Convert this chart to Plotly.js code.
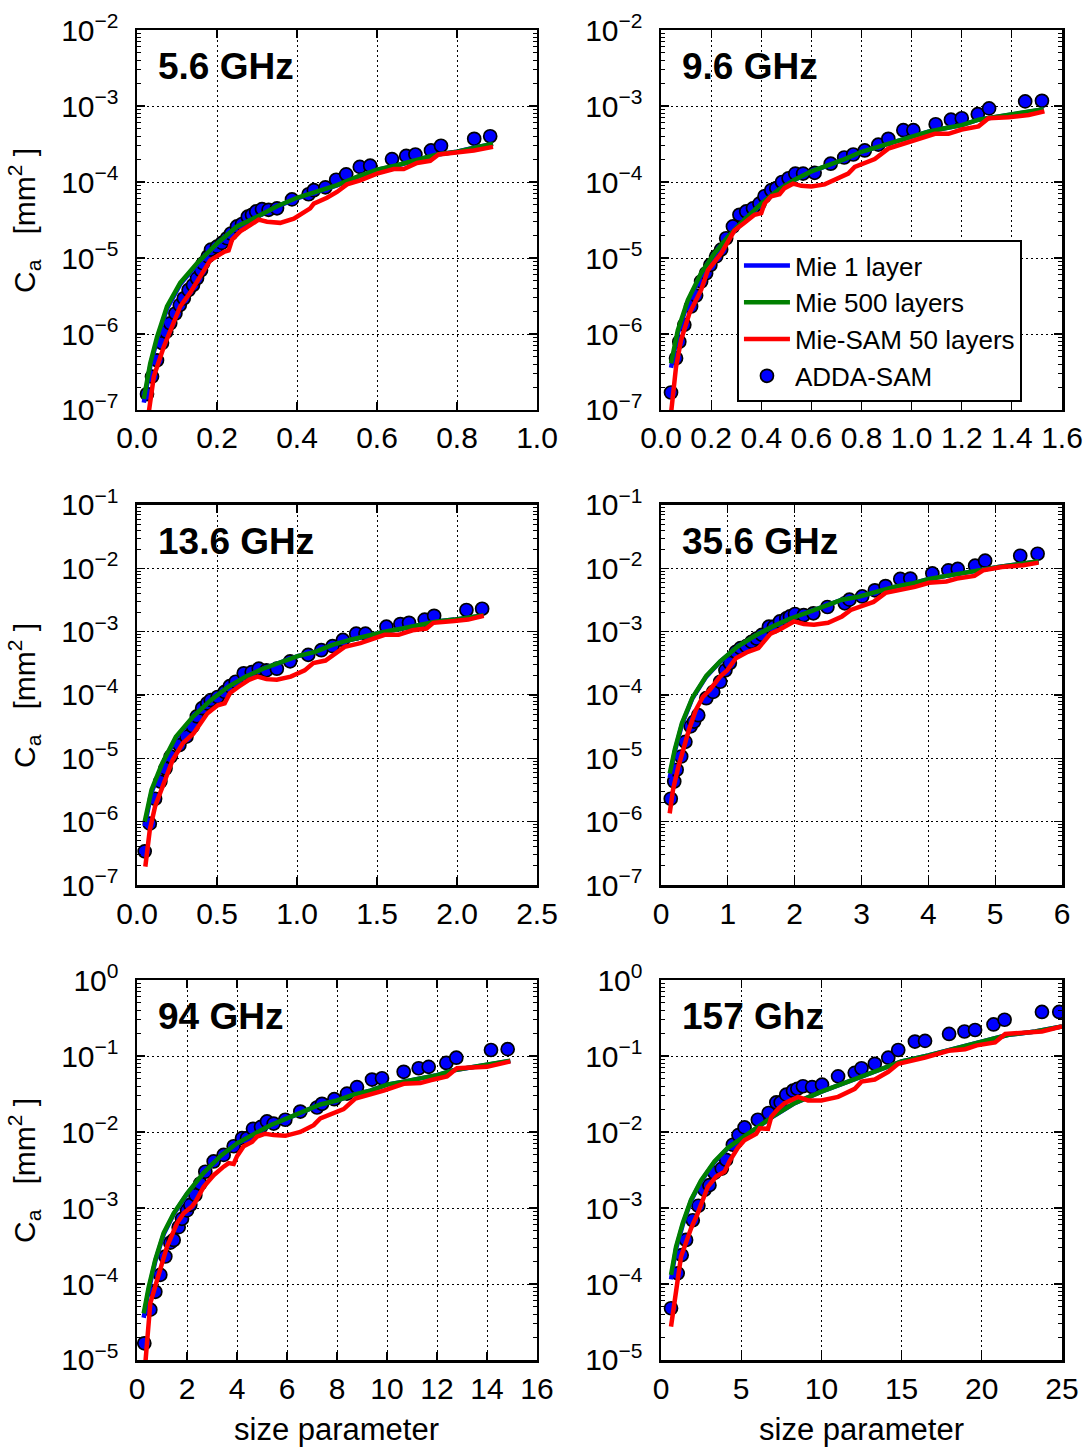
<!DOCTYPE html>
<html>
<head>
<meta charset="utf-8">
<script src="https://cdn.plot.ly/plotly-3.0.1.min.js"></script>
<style>html,body{margin:0;padding:0;background:#fff;}#chart{width:1092px;height:1447px;}</style>
</head>
<body>
<div id="chart"></div>
<script>
// ---------- 5.6 GHz ----------
const f56_x_mie = [0.017,0.033,0.05,0.075,0.108,0.15,0.2,0.25,0.3,0.35,0.4,0.45,0.5,0.55,0.6,0.65,0.7,0.75,0.8,0.85,0.89];
const f56_mie1 = [1.25e-7,3.7e-7,8.4e-7,2.15e-6,4.5e-6,8.2e-6,1.5e-5,2.55e-5,3.45e-5,4.75e-5,6.1e-5,7.3e-5,9.0e-5,1.16e-4,1.44e-4,1.65e-4,1.94e-4,2.3e-4,2.5e-4,2.9e-4,3.15e-4];
const f56_mie500 = [1.4e-7,4.1e-7,9.1e-7,2.3e-6,4.7e-6,8.5e-6,1.55e-5,2.6e-5,3.5e-5,4.8e-5,6.2e-5,7.4e-5,9.1e-5,1.17e-4,1.45e-4,1.66e-4,1.95e-4,2.3e-4,2.5e-4,2.9e-4,3.2e-4];
const f56_x_sam = [0.029,0.042,0.067,0.092,0.108,0.133,0.158,0.183,0.217,0.229,0.2375,0.258,0.283,0.304,0.325,0.358,0.392,0.433,0.442,0.475,0.5,0.525,0.558,0.6,0.642,0.667,0.7,0.733,0.754,0.8,0.842,0.89];
const f56_sam = [9e-8,2.75e-7,6.8e-7,1.38e-6,2.3e-6,3.5e-6,5.6e-6,9.3e-6,1.2e-5,1.26e-5,1.74e-5,2.24e-5,2.7e-5,3.2e-5,3.0e-5,2.9e-5,3.3e-5,4.5e-5,5.2e-5,6.2e-5,7.4e-5,9.3e-5,1.05e-4,1.29e-4,1.48e-4,1.48e-4,1.78e-4,1.9e-4,2.3e-4,2.45e-4,2.6e-4,2.9e-4];
const f56_x_adda = [0.025,0.0375,0.05,0.0625,0.073,0.083,0.096,0.107,0.117,0.129,0.14,0.15,0.16,0.165,0.177,0.185,0.2,0.2125,0.225,0.235,0.25,0.2625,0.277,0.2875,0.298,0.3125,0.329,0.35,0.3875,0.429,0.442,0.471,0.498,0.523,0.557,0.583,0.6375,0.673,0.696,0.735,0.76,0.843,0.883];
const f56_adda = [1.62e-7,2.75e-7,4.5e-7,7.6e-7,1.07e-6,1.38e-6,1.86e-6,2.4e-6,2.95e-6,3.8e-6,4.4e-6,5.4e-6,6.9e-6,8.5e-6,1.05e-5,1.29e-5,1.41e-5,1.58e-5,1.82e-5,2.1e-5,2.6e-5,2.8e-5,3.5e-5,3.7e-5,4.1e-5,4.4e-5,4.3e-5,4.5e-5,5.9e-5,6.9e-5,7.8e-5,8.5e-5,1.07e-4,1.26e-4,1.58e-4,1.64e-4,2.0e-4,2.2e-4,2.3e-4,2.6e-4,3.0e-4,3.7e-4,4.0e-4];

// ---------- 9.6 GHz ----------
const f96_x_mie = [0.04,0.067,0.107,0.16,0.213,0.267,0.333,0.4,0.467,0.533,0.6,0.667,0.733,0.8,0.867,0.933,1.0,1.067,1.133,1.2,1.267,1.333,1.4,1.527];
const f96_mie1 = [3.6e-7,1.02e-6,2.6e-6,6.0e-6,1.1e-5,1.85e-5,3.15e-5,5.1e-5,7.7e-5,1.06e-4,1.37e-4,1.65e-4,2.0e-4,2.5e-4,2.9e-4,3.4e-4,4.0e-4,4.6e-4,5.1e-4,5.6e-4,6.6e-4,7.2e-4,7.8e-4,9.0e-4];
const f96_mie500 = [4.1e-7,1.12e-6,2.8e-6,6.3e-6,1.15e-5,1.9e-5,3.2e-5,5.2e-5,7.8e-5,1.07e-4,1.38e-4,1.66e-4,2.0e-4,2.5e-4,2.9e-4,3.4e-4,4.0e-4,4.6e-4,5.1e-4,5.6e-4,6.6e-4,7.2e-4,7.8e-4,9.1e-4];
const f96_x_sam = [0.04,0.06,0.08,0.113,0.16,0.187,0.24,0.293,0.333,0.373,0.4,0.413,0.44,0.473,0.493,0.527,0.56,0.6,0.653,0.707,0.747,0.773,0.813,0.853,0.907,0.96,1.013,1.093,1.147,1.2,1.267,1.307,1.387,1.467,1.53];
const f96_sam = [9e-8,3.7e-7,8.3e-7,1.86e-6,3.8e-6,6.9e-6,1.15e-5,2.3e-5,2.9e-5,3.7e-5,3.9e-5,5.2e-5,6.5e-5,6.9e-5,8.3e-5,9.5e-5,8.9e-5,8.7e-5,9.3e-5,1.12e-4,1.29e-4,1.58e-4,1.78e-4,2.0e-4,2.75e-4,3.1e-4,3.5e-4,4.3e-4,4.3e-4,4.9e-4,5.4e-4,6.9e-4,7.1e-4,7.6e-4,8.5e-4];
const f96_x_adda = [0.04,0.06,0.073,0.093,0.12,0.14,0.16,0.18,0.197,0.22,0.24,0.26,0.287,0.313,0.34,0.367,0.393,0.413,0.44,0.46,0.483,0.509,0.536,0.567,0.613,0.677,0.731,0.767,0.813,0.867,0.907,0.967,1.007,1.096,1.157,1.2,1.264,1.309,1.453,1.52];
const f96_adda = [1.7e-7,4.8e-7,7.9e-7,1.32e-6,2.3e-6,3.2e-6,4.9e-6,6.3e-6,8.1e-6,1.05e-5,1.29e-5,1.82e-5,2.6e-5,3.7e-5,4.1e-5,4.5e-5,5.2e-5,6.5e-5,7.8e-5,8.3e-5,1.0e-4,1.12e-4,1.29e-4,1.29e-4,1.32e-4,1.74e-4,2.1e-4,2.3e-4,2.6e-4,3.1e-4,3.7e-4,4.8e-4,4.8e-4,5.75e-4,6.6e-4,6.9e-4,7.8e-4,9.3e-4,1.15e-3,1.17e-3];

// ---------- 13.6 GHz ----------
const f136_x_mie = [0.048,0.091,0.157,0.243,0.352,0.461,0.57,0.678,0.787,0.896,1.004,1.113,1.222,1.33,1.439,1.548,1.657,1.765,1.874,1.983,2.167];
const f136_mie1 = [8.5e-7,2.9e-6,7.8e-6,2.1e-5,4.5e-5,8.2e-5,1.34e-4,1.94e-4,2.6e-4,3.2e-4,4.1e-4,4.8e-4,6.2e-4,7.4e-4,8.7e-4,1.0e-3,1.12e-3,1.29e-3,1.45e-3,1.55e-3,1.8e-3];
const f136_mie500 = [1.0e-6,3.2e-6,8.3e-6,2.2e-5,4.6e-5,8.3e-5,1.35e-4,1.95e-4,2.6e-4,3.2e-4,4.1e-4,4.8e-4,6.2e-4,7.4e-4,8.7e-4,1.0e-3,1.12e-3,1.29e-3,1.45e-3,1.55e-3,1.82e-3];
const f136_x_sam = [0.052,0.08,0.113,0.157,0.222,0.287,0.352,0.439,0.504,0.548,0.58,0.635,0.7,0.754,0.809,0.874,0.961,1.048,1.102,1.178,1.243,1.298,1.396,1.483,1.548,1.635,1.722,1.809,1.852,1.983,2.07,2.167];
const f136_sam = [1.95e-7,7.4e-7,1.74e-6,3.5e-6,9.3e-6,1.74e-5,2.45e-5,5.1e-5,6.9e-5,7.4e-5,1.07e-4,1.35e-4,1.74e-4,1.95e-4,1.78e-4,1.74e-4,1.95e-4,2.45e-4,3.2e-4,3.5e-4,4.6e-4,5.75e-4,6.6e-4,7.8e-4,8.9e-4,8.9e-4,1.05e-3,1.12e-3,1.38e-3,1.48e-3,1.55e-3,1.78e-3];
const f136_x_adda = [0.048,0.08,0.113,0.146,0.178,0.211,0.265,0.309,0.348,0.374,0.407,0.439,0.461,0.504,0.548,0.58,0.617,0.667,0.717,0.761,0.809,0.874,0.957,1.07,1.152,1.222,1.287,1.37,1.428,1.559,1.646,1.7,1.798,1.857,2.059,2.157];
const f136_adda = [3.4e-7,9.3e-7,2.3e-6,4.3e-6,6.9e-6,1.07e-5,1.62e-5,2.2e-5,3.2e-5,4.6e-5,6.2e-5,7.4e-5,8.3e-5,9.3e-5,1.12e-4,1.38e-4,1.62e-4,2.2e-4,2.3e-4,2.6e-4,2.45e-4,2.6e-4,3.4e-4,4.3e-4,5.1e-4,5.9e-4,7.4e-4,9.3e-4,9.3e-4,1.2e-3,1.32e-3,1.38e-3,1.55e-3,1.78e-3,2.2e-3,2.3e-3];

// ---------- 35.6 GHz ----------
const f356_x_mie = [0.13,0.208,0.3125,0.469,0.677,0.885,1.146,1.406,1.667,1.927,2.1875,2.448,2.708,2.97,3.23,3.49,3.75,4.01,4.27,4.53,4.79,5.05,5.65];
const f356_mie1 = [4.9e-6,1.3e-5,3.4e-5,8.8e-5,1.95e-4,3.35e-4,5.75e-4,8.5e-4,1.19e-3,1.6e-3,2.0e-3,2.5e-3,3.2e-3,3.6e-3,4.3e-3,5.1e-3,5.75e-3,6.8e-3,7.6e-3,8.5e-3,9.3e-3,1.05e-2,1.28e-2];
const f356_mie500 = [5.75e-6,1.4e-5,3.6e-5,9.0e-5,2.0e-4,3.4e-4,5.8e-4,8.6e-4,1.2e-3,1.6e-3,2.0e-3,2.5e-3,3.2e-3,3.6e-3,4.3e-3,5.1e-3,5.75e-3,6.8e-3,7.6e-3,8.5e-3,9.3e-3,1.05e-2,1.29e-2];
const f356_x_sam = [0.13,0.18,0.26,0.417,0.52,0.625,0.729,0.885,0.99,1.12,1.30,1.458,1.536,1.64,1.77,1.927,1.99,2.135,2.29,2.5,2.708,2.84,3.02,3.18,3.36,3.59,3.80,4.01,4.27,4.43,4.69,4.82,5.10,5.42,5.65];
const f356_sam = [1.35e-6,3.2e-6,7.4e-6,2.8e-5,5.75e-5,9.3e-5,1.2e-4,1.95e-4,2.45e-4,3.8e-4,4.8e-4,5.5e-4,6.9e-4,9.3e-4,1.07e-3,1.29e-3,1.45e-3,1.32e-3,1.29e-3,1.38e-3,1.74e-3,2.2e-3,2.6e-3,2.95e-3,4.1e-3,4.5e-3,5.1e-3,5.9e-3,6.2e-3,6.9e-3,7.6e-3,9.3e-3,1.05e-2,1.12e-2,1.23e-2];
const f356_x_adda = [0.146,0.198,0.234,0.302,0.365,0.443,0.495,0.557,0.677,0.781,0.885,0.964,1.03,1.12,1.19,1.276,1.354,1.43,1.51,1.615,1.69,1.78,1.875,1.93,2.005,2.135,2.28,2.49,2.75,2.82,3.01,3.20,3.36,3.58,3.73,4.06,4.30,4.44,4.70,4.85,5.375,5.635];
const f356_adda = [2.3e-6,4.3e-6,6.6e-6,1.07e-5,1.82e-5,3.2e-5,3.8e-5,4.8e-5,8.9e-5,1.12e-4,1.62e-4,2.45e-4,3.2e-4,4.8e-4,5.5e-4,5.9e-4,6.9e-4,7.8e-4,8.9e-4,1.2e-3,1.2e-3,1.45e-3,1.62e-3,1.74e-3,1.9e-3,1.82e-3,1.95e-3,2.45e-3,2.8e-3,3.2e-3,3.6e-3,4.5e-3,5.25e-3,6.8e-3,6.9e-3,8.3e-3,9.3e-3,9.8e-3,1.1e-2,1.32e-2,1.58e-2,1.7e-2];

// ---------- 94 GHz ----------
const f94_x_mie = [0.267,0.467,0.733,1.067,1.467,2.0,2.667,3.333,4.0,4.667,5.333,6.0,6.667,7.333,8.0,8.667,9.333,10.0,10.667,11.333,12.0,12.667,13.333,14.0,14.933];
const f94_mie1 = [3.6e-5,8.3e-5,2.0e-4,4.5e-4,8.3e-4,1.52e-3,2.85e-3,4.75e-3,7.0e-3,9.4e-3,1.22e-2,1.5e-2,1.85e-2,2.3e-2,2.6e-2,3.1e-2,3.5e-2,4.2e-2,4.6e-2,5.1e-2,5.6e-2,6.5e-2,7.1e-2,7.8e-2,8.6e-2];
const f94_mie500 = [4.1e-5,9.1e-5,2.1e-4,4.7e-4,8.5e-4,1.55e-3,2.9e-3,4.8e-3,7.1e-3,9.5e-3,1.23e-2,1.51e-2,1.86e-2,2.3e-2,2.6e-2,3.1e-2,3.5e-2,4.2e-2,4.6e-2,5.1e-2,5.6e-2,6.5e-2,7.1e-2,7.8e-2,8.7e-2];
const f94_x_sam = [0.333,0.533,0.8,1.067,1.2,1.6,1.867,2.2,2.333,2.667,3.067,3.467,3.667,3.867,4.0,4.267,4.6,4.8,5.133,5.467,5.933,6.533,7.067,7.333,7.933,8.267,8.733,9.333,9.867,10.667,11.333,11.733,12.4,12.8,14.0,14.933];
const f94_sam = [9e-6,5.6e-5,1.12e-4,2.1e-4,3.1e-4,6.3e-4,8.5e-4,1.05e-3,1.2e-3,1.9e-3,2.7e-3,3.5e-3,3.9e-3,3.8e-3,4.8e-3,6.5e-3,7.4e-3,8.7e-3,9.5e-3,9.1e-3,8.9e-3,1.0e-2,1.23e-2,1.51e-2,1.78e-2,2.0e-2,2.75e-2,3.1e-2,3.5e-2,4.3e-2,4.4e-2,4.8e-2,5.4e-2,6.9e-2,7.2e-2,8.5e-2];
const f94_x_adda = [0.293,0.533,0.733,0.933,1.133,1.333,1.467,1.667,1.8,2.0,2.133,2.333,2.533,2.733,3.067,3.467,3.867,4.2,4.4,4.64,4.96,5.2,5.467,5.933,6.533,7.2,7.4,7.893,8.4,8.8,9.4,9.8,10.667,11.267,11.667,12.373,12.773,14.16,14.827];
const f94_adda = [1.66e-5,4.6e-5,7.9e-5,1.32e-4,2.3e-4,3.5e-4,3.8e-4,5.6e-4,7.2e-4,9.3e-4,1.1e-3,1.48e-3,2.1e-3,3.0e-3,4.1e-3,5.0e-3,6.5e-3,8.3e-3,8.3e-3,1.1e-2,1.17e-2,1.38e-2,1.29e-2,1.45e-2,1.86e-2,2.1e-2,2.35e-2,2.7e-2,3.2e-2,3.9e-2,4.9e-2,5.1e-2,6.2e-2,6.9e-2,7.2e-2,8.1e-2,9.5e-2,1.2e-1,1.23e-1];

// ---------- 157 GHz ----------
const f157_x_mie = [0.625,0.9375,1.354,1.875,2.5,3.333,4.167,5.0,6.04,7.083,8.333,10.0,11.667,13.333,15.0,16.667,18.333,20.0,21.667,23.333,25.0];
const f157_mie1 = [1.15e-4,2.9e-4,6.0e-4,1.25e-3,2.25e-3,4.0e-3,6.1e-3,8.2e-3,1.16e-2,1.65e-2,2.4e-2,3.4e-2,4.6e-2,6.2e-2,8.5e-2,1.02e-1,1.26e-1,1.55e-1,1.9e-1,2.1e-1,2.45e-1];
const f157_mie500 = [1.32e-4,3.1e-4,6.3e-4,1.29e-3,2.3e-3,4.1e-3,6.2e-3,8.3e-3,1.17e-2,1.66e-2,2.4e-2,3.4e-2,4.6e-2,6.2e-2,8.5e-2,1.02e-1,1.26e-1,1.55e-1,1.9e-1,2.1e-1,2.45e-1];
const f157_x_sam = [0.625,0.9375,1.25,1.875,2.29,2.917,3.4375,3.958,4.27,4.79,5.2,5.9375,6.15,6.67,6.875,7.29,7.71,8.54,9.17,10.0,11.04,12.08,12.5,13.33,14.17,14.79,15.625,16.46,17.92,18.96,19.69,20.83,21.46,23.75,25.0];
const f157_sam = [2.75e-5,9.1e-5,2.3e-4,5.4e-4,8.5e-4,1.9e-3,2.6e-3,3.0e-3,4.1e-3,6.2e-3,7.8e-3,9.5e-3,1.12e-2,1.1e-2,1.58e-2,2.0e-2,2.4e-2,2.9e-2,2.6e-2,2.6e-2,2.9e-2,3.7e-2,4.6e-2,4.9e-2,6.2e-2,7.9e-2,8.7e-2,9.5e-2,1.17e-1,1.23e-1,1.38e-1,1.51e-1,1.95e-1,2.1e-1,2.45e-1];
const f157_x_adda = [0.625,1.04,1.29,1.5625,1.98,2.33,2.71,3.02,3.33,3.79,4.06,4.48,4.83,5.21,6.04,6.71,7.19,7.46,7.81,8.23,8.5,8.85,9.42,10.04,11.04,12.08,12.5,13.33,14.17,14.79,15.83,16.46,17.96,18.92,19.58,20.73,21.42,23.75,24.83];
const f157_adda = [4.8e-5,1.38e-4,2.4e-4,3.8e-4,6.9e-4,1.07e-3,1.74e-3,2.0e-3,2.9e-3,3.3e-3,4.3e-3,6.8e-3,9.1e-3,1.15e-2,1.45e-2,1.78e-2,2.45e-2,2.45e-2,3.1e-2,3.5e-2,3.7e-2,4.0e-2,3.9e-2,4.2e-2,5.4e-2,6.0e-2,6.9e-2,7.9e-2,9.5e-2,1.2e-1,1.55e-1,1.58e-1,1.95e-1,2.1e-1,2.2e-1,2.6e-1,3.0e-1,3.8e-1,3.8e-1];

// ---------- labels / axes ----------
const seriesNames = ['Mie 1 layer', 'Mie 500 layers', 'Mie-SAM 50 layers', 'ADDA-SAM'];
const panelLabels = ['5.6 GHz', '9.6 GHz', '13.6 GHz', '35.6 GHz', '94 GHz', '157 Ghz'];
const xRanges = [[0, 1.0], [0, 1.6], [0, 2.5], [0, 6], [0, 16], [0, 25]];
const xDticks = [0.2, 0.2, 0.5, 1, 2, 5];
const xFormats = ['.1f', '.1f', '.1f', 'd', 'd', 'd'];
const yDecades = [[-7, -2], [-7, -2], [-7, -1], [-7, -1], [-5, 0], [-5, 0]];
const yTitle = 'C<sub>a</sub>\u00A0\u00A0\u00A0[mm<sup>2</sup>\u00A0]';
const xTitle = 'size parameter';

const panels = [
  {xm: f56_x_mie, m1: f56_mie1, m500: f56_mie500, xs: f56_x_sam, sam: f56_sam, xa: f56_x_adda, adda: f56_adda},
  {xm: f96_x_mie, m1: f96_mie1, m500: f96_mie500, xs: f96_x_sam, sam: f96_sam, xa: f96_x_adda, adda: f96_adda},
  {xm: f136_x_mie, m1: f136_mie1, m500: f136_mie500, xs: f136_x_sam, sam: f136_sam, xa: f136_x_adda, adda: f136_adda},
  {xm: f356_x_mie, m1: f356_mie1, m500: f356_mie500, xs: f356_x_sam, sam: f356_sam, xa: f356_x_adda, adda: f356_adda},
  {xm: f94_x_mie, m1: f94_mie1, m500: f94_mie500, xs: f94_x_sam, sam: f94_sam, xa: f94_x_adda, adda: f94_adda},
  {xm: f157_x_mie, m1: f157_mie1, m500: f157_mie500, xs: f157_x_sam, sam: f157_sam, xa: f157_x_adda, adda: f157_adda}
];

const FONT = 'Liberation Sans, Arial, Helvetica, sans-serif';
const colDomains = [[0, 0.43243], [0.56649, 1]];
const rowDomains = [[0.71429, 1], [0.35714, 0.64286], [0, 0.28571]];

const traces = [];
const layout = {
  width: 1092, height: 1447,
  margin: {l: 137, r: 30, t: 30, b: 87},
  paper_bgcolor: '#fff', plot_bgcolor: '#fff',
  font: {family: FONT, size: 30, color: '#000'},
  showlegend: true,
  legend: {
    x: 0.6486, y: 0.8421, xanchor: 'left', yanchor: 'top',
    bgcolor: '#fff', bordercolor: '#000', borderwidth: 2,
    font: {family: FONT, size: 26, color: '#000'},
    tracegroupgap: 0, itemwidth: 46
  },
  annotations: []
};

panels.forEach((p, i) => {
  const n = i + 1;
  const xa = 'x' + (n === 1 ? '' : n), ya = 'y' + (n === 1 ? '' : n);
  const show = (i === 0);
  traces.push({x: p.xa, y: p.adda, xaxis: xa, yaxis: ya, type: 'scatter', mode: 'markers',
    name: seriesNames[3], legendrank: 4, showlegend: show,
    marker: {color: '#0000ff', size: 13, line: {color: '#000', width: 1.7}}});
  traces.push({x: p.xm, y: p.m1, xaxis: xa, yaxis: ya, type: 'scatter', mode: 'lines',
    name: seriesNames[0], legendrank: 1, showlegend: show, line: {color: '#0000ff', width: 4.5}});
  traces.push({x: p.xm, y: p.m500, xaxis: xa, yaxis: ya, type: 'scatter', mode: 'lines',
    name: seriesNames[1], legendrank: 2, showlegend: show, line: {color: '#008000', width: 4.5}});
  traces.push({x: p.xs, y: p.sam, xaxis: xa, yaxis: ya, type: 'scatter', mode: 'lines',
    name: seriesNames[2], legendrank: 3, showlegend: show, line: {color: '#ff0000', width: 4.5}});

  const col = i % 2, row = Math.floor(i / 2);
  const [lo, hi] = yDecades[i];
  const tv = [], tt = [], mv = [];
  for (let e = lo; e <= hi; e++) {
    tv.push(Math.pow(10, e));
    tt.push('10<sup>' + (e < 0 ? '\u2212' + (-e) : e) + '</sup>');
    if (e < hi) for (let k = 2; k <= 9; k++) mv.push(k * Math.pow(10, e));
  }
  layout['xaxis' + (n === 1 ? '' : n)] = {
    domain: colDomains[col], anchor: ya, range: xRanges[i],
    tickmode: 'linear', tick0: 0, dtick: xDticks[i], tickformat: xFormats[i],
    ticks: 'inside', ticklen: 8, tickwidth: 1.2, tickcolor: '#000',
    showline: true, linecolor: '#000', linewidth: 2.5, mirror: 'allticks',
    showgrid: true, gridcolor: '#000', gridwidth: 1, griddash: '2px,3px',
    zeroline: false, tickfont: {family: FONT, size: 30, color: '#000'},
    ticklabelstandoff: 0
  };
  layout['yaxis' + (n === 1 ? '' : n)] = {
    domain: rowDomains[row], anchor: xa, type: 'log', range: [lo, hi],
    tickmode: 'array', tickvals: tv, ticktext: tt,
    ticks: 'inside', ticklen: 8, tickwidth: 1.2, tickcolor: '#000',
    minor: {tickmode: 'array', tickvals: mv, ticks: 'inside', ticklen: 4, tickwidth: 1, tickcolor: '#000', showgrid: false},
    showline: true, linecolor: '#000', linewidth: 2.5, mirror: 'allticks',
    showgrid: true, gridcolor: '#000', gridwidth: 1, griddash: '2px,3px',
    zeroline: false, tickfont: {family: FONT, size: 30, color: '#000'},
    ticklabelstandoff: 10
  };
  layout.annotations.push({
    xref: xa + ' domain', yref: ya + ' domain', x: 0.048, y: 0.905,
    xanchor: 'left', yanchor: 'middle', showarrow: false,
    text: '<b>' + panelLabels[i] + '</b>', font: {family: FONT, size: 37, color: '#000'}
  });
  if (col === 0) {
    layout.annotations.push({
      xref: 'paper', yref: 'paper', x: -0.1222, y: (rowDomains[row][0] + rowDomains[row][1]) / 2,
      xanchor: 'center', yanchor: 'middle', showarrow: false, textangle: -90,
      text: yTitle, font: {family: FONT, size: 30, color: '#000'}
    });
  }
  if (row === 2) {
    layout.annotations.push({
      xref: 'paper', yref: 'paper', x: (colDomains[col][0] + colDomains[col][1]) / 2, y: -0.0526,
      xanchor: 'center', yanchor: 'middle', showarrow: false,
      text: xTitle, font: {family: FONT, size: 31, color: '#000'}
    });
  }
});

Plotly.newPlot('chart', traces, layout, {displayModeBar: false, staticPlot: true});
</script>
</body>
</html>
